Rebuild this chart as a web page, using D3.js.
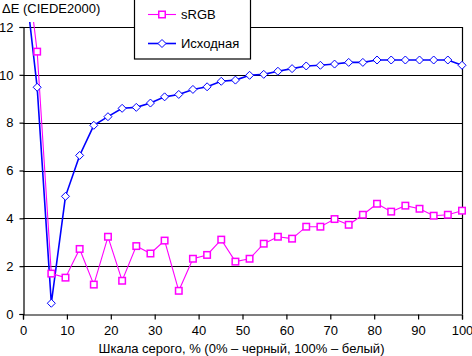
<!DOCTYPE html>
<html><head><meta charset="utf-8">
<script src="https://cdn.jsdelivr.net/npm/d3@7"></script>
<style>
body{margin:0;background:#fff;}
svg{display:block;font-family:Arial,"Liberation Sans",sans-serif;font-size:13px;}
</style></head>
<body><svg id="c" width="472" height="356"></svg>
<script>
const xValues = d3.range(32).map(i => i * 100 / 31);
const srgb = [15.9, 10.97, 1.69, 1.52, 2.72, 1.23, 3.23, 1.39, 2.84, 2.53,
  3.07, 0.97, 2.31, 2.47, 3.11, 2.19, 2.31, 2.94, 3.23, 3.15,
  3.65, 3.65, 3.97, 3.73, 4.15, 4.61, 4.28, 4.53, 4.40, 4.11,
  4.15, 4.32];
const original = [14.7, 9.48, 0.45, 4.92, 6.63, 7.89, 8.25, 8.6, 8.64, 8.82,
  9.08, 9.18, 9.39, 9.5, 9.73, 9.78, 9.98, 10.02, 10.15, 10.26,
  10.37, 10.4, 10.45, 10.52, 10.52, 10.62, 10.62, 10.62, 10.62, 10.62,
  10.62, 10.4];
const xTicks = [0,10,20,30,40,50,60,70,80,90,100];
const yTicks = [0,2,4,6,8,10,12];
const seriesNames = ["sRGB", "Исходная"];
const yTitle = "ΔE (CIEDE2000)";
const xTitle = "Шкала серого, % (0% – черный, 100% – белый)";

const svg = d3.select("#c");
const x = d3.scaleLinear().domain([0,100]).range([23,462]);
const y = d3.scaleLinear().domain([0,12]).range([314,27]);

// gridlines
svg.append("g").selectAll("line").data(yTicks.filter(d=>d>0)).join("line")
  .attr("x1",x(0)).attr("x2",x(100))
  .attr("y1",d=>Math.round(y(d))+0.5).attr("y2",d=>Math.round(y(d))+0.5)
  .attr("stroke","#000").attr("stroke-width",1.2);

// right border
svg.append("line").attr("x1",x(100)+0.5).attr("x2",x(100)+0.5)
  .attr("y1",y(12)).attr("y2",y(0)).attr("stroke","#000").attr("stroke-width",1.2);

// axes
const xAxis = d3.axisBottom(x).tickValues(xTicks).tickSize(5).tickPadding(6).tickFormat(d3.format("d"));
const gx = svg.append("g").attr("transform",`translate(0,${Math.round(y(0))+0.5})`).call(xAxis);
gx.select(".domain").attr("stroke","#000").attr("stroke-width",1.2);
gx.selectAll(".tick line").attr("stroke-width",1.2);
gx.selectAll("text").attr("font-size",13).attr("font-family","Arial, 'Liberation Sans', sans-serif").attr("fill","#000");

const yAxis = d3.axisLeft(y).tickValues(yTicks).tickSize(4).tickPadding(6).tickFormat(d3.format("d"));
const gy = svg.append("g").attr("transform",`translate(${Math.round(x(0))+0.5},0)`).call(yAxis);
gy.select(".domain").attr("stroke","#000").attr("stroke-width",1.2);
gy.selectAll(".tick line").attr("stroke-width",1.2);
gy.selectAll("text").attr("font-size",13).attr("font-family","Arial, 'Liberation Sans', sans-serif").attr("fill","#000");

// clip
svg.append("clipPath").attr("id","clip").append("rect")
  .attr("x",x(0)).attr("y",22).attr("width",x(100)-x(0)+6).attr("height",310);

const plot = svg.append("g").attr("clip-path","url(#clip)");
const line = d3.line().x((d,i)=>x(xValues[i])).y(d=>y(d));

plot.append("path").datum(original).attr("d",line)
  .attr("fill","none").attr("stroke","#0000ff").attr("stroke-width",1.6);
plot.append("path").datum(srgb).attr("d",line)
  .attr("fill","none").attr("stroke","#ff00ff").attr("stroke-width",1.1);

const sym = d3.symbol().type(d3.symbolDiamond2 || d3.symbolSquare);
plot.selectAll(".dia").data(original).join("path").attr("class","dia")
  .attr("d","M0,-4L4,0L0,4L-4,0Z")
  .attr("transform",(d,i)=>`translate(${x(xValues[i])},${y(d)})`)
  .attr("fill","#fff").attr("stroke","#0000ff").attr("stroke-width",1);
plot.selectAll(".sq").data(srgb).join("rect").attr("class","sq")
  .attr("x",(d,i)=>x(xValues[i])-3.25).attr("y",d=>y(d)-3.25)
  .attr("width",6.5).attr("height",6.5)
  .attr("fill","#fff").attr("stroke","#ff00ff").attr("stroke-width",1.5);

// titles
svg.append("text").attr("x",2).attr("y",13).attr("fill","#000").text(yTitle);
svg.append("text").attr("x",(x(0)+x(100))/2 - 1).attr("y",353).attr("text-anchor","middle").attr("fill","#000").text(xTitle);

// legend
const lg = svg.append("g");
lg.append("rect").attr("x",134.5).attr("y",-1).attr("width",116).attr("height",60)
  .attr("fill","#fff").attr("stroke","#000").attr("stroke-width",1.2);
const colors = ["#ff00ff","#0000ff"];
const ly = [14.5, 43.5];
seriesNames.forEach((n,i)=>{
  lg.append("line").attr("x1",148).attr("x2",176).attr("y1",ly[i]).attr("y2",ly[i])
    .attr("stroke",colors[i]).attr("stroke-width",i===0?1.1:1.6);
  if(i===0){
    lg.append("rect").attr("x",162-3.25).attr("y",ly[i]-3.25).attr("width",6.5).attr("height",6.5)
      .attr("fill","#fff").attr("stroke",colors[i]).attr("stroke-width",1.5);
  } else {
    lg.append("path").attr("d","M0,-4L4,0L0,4L-4,0Z").attr("transform",`translate(162,${ly[i]})`)
      .attr("fill","#fff").attr("stroke",colors[i]).attr("stroke-width",1);
  }
  lg.append("text").attr("x",181).attr("y",ly[i]+4.5).attr("fill","#000").text(n);
});
</script></body></html>
